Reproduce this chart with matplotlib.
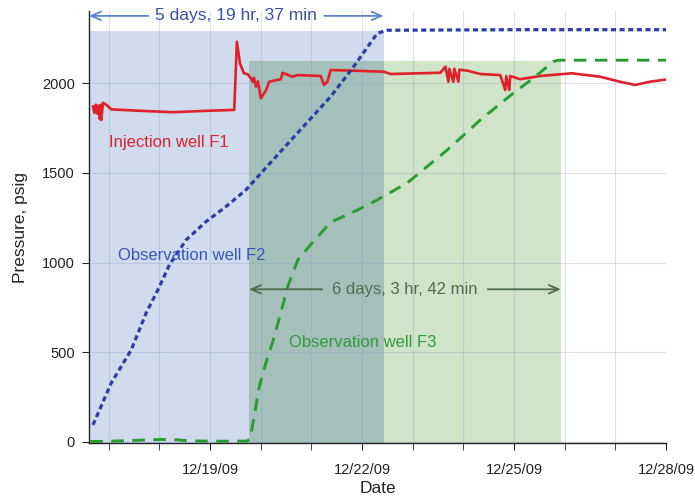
import numpy as np
import matplotlib
matplotlib.use("Agg")
import matplotlib.pyplot as plt
import matplotlib.dates as mdates

plt.rcParams["font.family"] = ["Liberation Sans", "DejaVu Sans"]

# Time axis: days elapsed since 2009-12-16 00:00
BASE = np.datetime64("2009-12-16T00:00")

# Injection well F1
f1_days = [0.691, 0.722, 0.746, 0.776, 0.795, 0.825, 0.844, 0.854, 0.888, 0.953,
           1.051, 1.543, 2.266, 2.856, 3.478, 3.531, 3.591, 3.669, 3.742, 3.807,
           3.841, 3.866, 3.906, 3.945, 4.004, 4.069, 4.106, 4.167, 4.398, 4.431,
           4.628, 4.726, 5.185, 5.250, 5.317, 5.382, 5.776, 6.431, 6.563, 7.547,
           7.646, 7.705, 7.724, 7.803, 7.823, 7.902, 7.921, 8.073, 8.335, 8.728,
           8.827, 8.846, 8.906, 8.925, 9.122, 9.516, 10.140, 10.697, 11.091, 11.386,
           11.683, 11.939, 12.0]
f1_psig = [1869, 1834, 1880, 1830, 1875, 1800, 1880, 1795, 1891, 1880,
           1854, 1847, 1838, 1845, 1851, 2231, 2111, 2055, 2050, 2027,
           2008, 2030, 1981, 2010, 1916, 1944, 1960, 2008, 2022, 2058,
           2036, 2045, 2040, 1990, 2008, 2073, 2070, 2064, 2051, 2058,
           2092, 2008, 2080, 2008, 2080, 2008, 2075, 2070, 2051, 2045,
           1962, 2040, 1962, 2040, 2022, 2040, 2055, 2036, 2008, 1990,
           2008, 2018, 2020]

# Observation well F2
f2_days = [0.691, 1.051, 1.445, 1.740, 1.970, 2.199, 2.528, 2.921, 3.315, 3.709,
           4.063, 4.726, 5.382, 5.835, 6.301, 6.498, 9.0, 12.0]
f2_psig = [95, 329, 513, 719, 847, 987, 1126, 1228, 1312, 1405,
           1516, 1722, 1925, 2092, 2278, 2295, 2298, 2298]

# Observation well F3
f3_days = [0.638, 0.854, 1.445, 2.035, 2.331, 2.626, 3.217, 3.728, 3.787, 3.866,
           3.965, 4.102, 4.240, 4.378, 4.535, 4.732, 4.988, 5.382, 5.913, 6.307,
           6.898, 7.685, 8.335, 8.984, 9.378, 9.772, 9.870, 12.0]
f3_psig = [3, 3, 8, 14, 12, 6, 4, 5, 15, 130,
           300, 440, 560, 700, 866, 1014, 1100, 1225, 1293, 1350,
           1445, 1628, 1795, 1944, 2027, 2120, 2128, 2128]

# Response windows
f2_window_start = "2009-12-16T14:40"
f2_window_len = (5, 19, 37)      # days, hours, minutes
f2_window_top = 2290
f3_window_start = "2009-12-19T18:30"
f3_window_len = (6, 3, 42)
f3_window_top = 2125

x_major = ["2009-12-19", "2009-12-22", "2009-12-25", "2009-12-28"]
y_ticks = [0, 500, 1000, 1500, 2000]


def to_time(days):
    secs = np.round(np.asarray(days) * 86400).astype("int64")
    return BASE + secs.astype("timedelta64[s]")


def window(start, dur):
    s = np.datetime64(start)
    d, h, m = dur
    e = s + np.timedelta64(d * 1440 + h * 60 + m, "m")
    return mdates.date2num(s), mdates.date2num(e)


fig = plt.figure(figsize=(6.95, 5.0), dpi=100)
ax = fig.add_axes([0.128, 0.1132, 0.8303, 0.864])

b0, b1 = window(f2_window_start, f2_window_len)
g0, g1 = window(f3_window_start, f3_window_len)
ybot = -8

# shaded windows (overlap gets its own tint)
ax.fill_between([b0, b1], ybot, f2_window_top, color="#d0dcee", lw=0, zorder=0.1)
ax.fill_between([g0, g1], ybot, f3_window_top, color="#cfe4c8", lw=0, zorder=0.2)
o0, o1 = max(b0, g0), min(b1, g1)
ax.fill_between([o0, o1], ybot, min(f2_window_top, f3_window_top),
                color="#a5c0ba", lw=0, zorder=0.3)

ax.plot(to_time(f1_days), f1_psig, color="#e0202a", lw=1.9, zorder=3)
ax.plot(to_time(f2_days), f2_psig, color="#2a3ca8", lw=2.3,
        linestyle=(0, (1.6, 1.1)), dash_capstyle="butt", zorder=3)
ax.plot(to_time(f3_days), f3_psig, color="#2a9a34", lw=2.1,
        linestyle=(0, (4.3, 2.9)), dash_capstyle="butt", zorder=3)

ax.set_xlim(b0, mdates.date2num(np.datetime64("2009-12-28")))
ax.set_ylim(ybot, 2400)

ax.set_xticks([mdates.date2num(np.datetime64(d)) for d in x_major])
ax.xaxis.set_major_formatter(mdates.DateFormatter("%m/%d/%y"))
ax.xaxis.set_minor_locator(mdates.DayLocator())
ax.set_yticks(y_ticks)

ax.set_axisbelow(True)
grid_kw = dict(color="#8c9ec2", alpha=0.3, lw=0.8)
ax.grid(True, which="minor", axis="x", **grid_kw)
ax.grid(True, which="major", axis="x", **grid_kw)
ax.grid(True, which="major", axis="y", **grid_kw)

for side in ("top", "right"):
    ax.spines[side].set_visible(False)
for side in ("left", "bottom"):
    ax.spines[side].set_color("#222222")
    ax.spines[side].set_linewidth(1.0)

ax.tick_params(axis="both", which="both", direction="out", color="#222222",
               labelsize=10.5, labelcolor="#222222")
ax.tick_params(axis="x", which="major", length=5, pad=9)
ax.tick_params(axis="x", which="minor", length=5)
ax.tick_params(axis="y", which="major", length=5, pad=5)

ax.set_xlabel("Date", fontsize=12.5, color="#222222", labelpad=3)
ax.set_ylabel("Pressure, psig", fontsize=12.5, color="#222222", labelpad=10)

# series labels
ax.text(mdates.date2num(np.datetime64("2009-12-17T00:00")), 1667, "Injection well F1",
        color="#d9232d", fontsize=12, ha="left", va="center")
ax.text(mdates.date2num(np.datetime64("2009-12-17T04:30")), 1037, "Observation well F2",
        color="#3a55b5", fontsize=12, ha="left", va="center")
ax.text(mdates.date2num(np.datetime64("2009-12-20T13:30")), 554, "Observation well F3",
        color="#2f9a3a", fontsize=12, ha="left", va="center")


def duration_arrow(x0, x1, y, dur, tcolor, acolor, gap_px, size):
    d, h, m = dur
    label = f"{d} days, {h} hr, {m} min"
    t = ax.text((x0 + x1) / 2, y, label, ha="center", va="center",
                color=tcolor, fontsize=size, zorder=5, clip_on=False)
    fig.canvas.draw()
    bb = t.get_window_extent()
    inv = ax.transData.inverted()
    left = inv.transform((bb.x0 - gap_px, 0))[0]
    right = inv.transform((bb.x1 + gap_px, 0))[0]
    props = dict(arrowstyle="->,head_length=0.7,head_width=0.3", color=acolor,
                 lw=1.3, shrinkA=0, shrinkB=0)
    ax.annotate("", xy=(x0, y), xytext=(left, y), arrowprops=props,
                annotation_clip=False, zorder=5)
    ax.annotate("", xy=(x1, y), xytext=(right, y), arrowprops=props,
                annotation_clip=False, zorder=5)


duration_arrow(b0, b1, 2375, f2_window_len, "#3c4fa3", "#5b86c6", 7, 12.5)
duration_arrow(g0, g1, 851, f3_window_len, "#4d6b4d", "#4d6b4d", 10, 12)

fig.savefig("out.png", dpi=100)
